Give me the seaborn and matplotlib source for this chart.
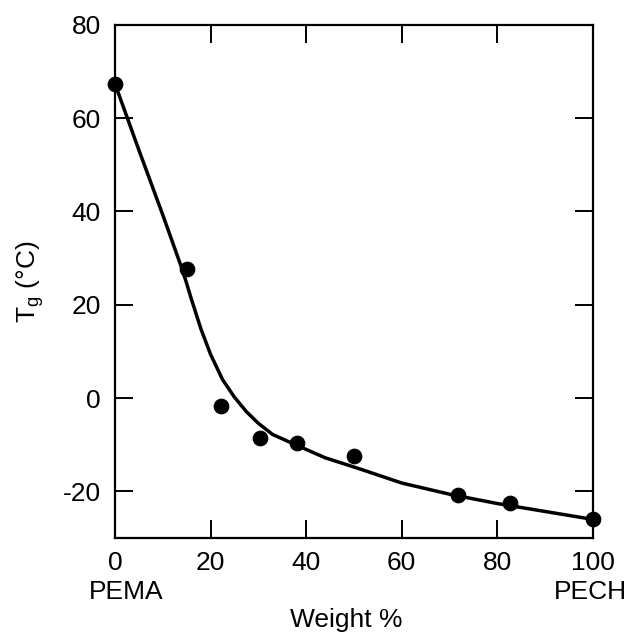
import matplotlib
matplotlib.use("Agg")
import matplotlib.pyplot as plt
import seaborn as sns
import pandas as pd

# measured data points
weight_pct = [0, 15.0, 22.3, 30.3, 38.0, 50.0, 71.8, 82.6, 100]
tg_points = [67.4, 27.6, -1.8, -8.5, -9.7, -12.5, -20.7, -22.4, -25.9]

# fitted curve
curve_x = [0, 5, 10, 14, 15, 16, 18, 20, 22.5, 25, 27.5, 30, 33, 38, 44, 51, 60, 70, 80, 90, 100]
curve_y = [67.4, 53.2, 39.3, 27.8, 24.6, 21.2, 14.8, 9.4, 4.0, 0.2, -2.9, -5.4, -7.8, -10.1, -12.8, -15.1, -18.2, -20.6, -22.6, -24.3, -26.0]

x_ticks = [0, 20, 40, 60, 80, 100]
y_ticks = [-20, 0, 20, 40, 60, 80]
end_labels = ["PEMA", "PECH"]

sns.set_style("ticks")
plt.rcParams['font.family'] = ['Liberation Sans', 'DejaVu Sans']
plt.rcParams['axes.unicode_minus'] = False
plt.rcParams['text.color'] = 'black'
plt.rcParams['axes.labelcolor'] = 'black'
plt.rcParams['xtick.color'] = 'black'
plt.rcParams['ytick.color'] = 'black'

fig = plt.figure(figsize=(6.28, 6.36), dpi=100)
ax = fig.add_axes([0.183, 0.154, 0.944 - 0.183, 0.961 - 0.154])

curve = pd.DataFrame({"x": curve_x, "y": curve_y})
pts = pd.DataFrame({"x": weight_pct, "y": tg_points})

sns.lineplot(data=curve, x="x", y="y", ax=ax, color="black", lw=2.5, sort=False)
sns.scatterplot(data=pts, x="x", y="y", ax=ax, color="black", s=110, edgecolor="black", zorder=5, clip_on=False)

ax.set_xlim(0, 100)
ax.set_ylim(-30, 80)
ax.set_xticks(x_ticks)
ax.set_yticks(y_ticks)
ax.tick_params(direction="in", length=13, width=1.4, top=True, right=True,
               labelsize=19, pad=10, color="black", labelcolor="black")
ax.tick_params(axis="x", pad=9)
for s in ax.spines.values():
    s.set_linewidth(1.6)
    s.set_color("black")

ax.set_xlabel("Weight %", fontsize=19)
ax.xaxis.label.set_va("center")
ax.xaxis.set_label_coords(0.485, -0.16)
ax.set_ylabel("T$_\\mathregular{g}$ (°C)", fontsize=19, labelpad=12)

ax.text(0.023, -0.105, end_labels[0], transform=ax.transAxes, ha="center", va="center", fontsize=19)
ax.text(0.994, -0.105, end_labels[1], transform=ax.transAxes, ha="center", va="center", fontsize=19)

fig.savefig("out.png", dpi=100)
